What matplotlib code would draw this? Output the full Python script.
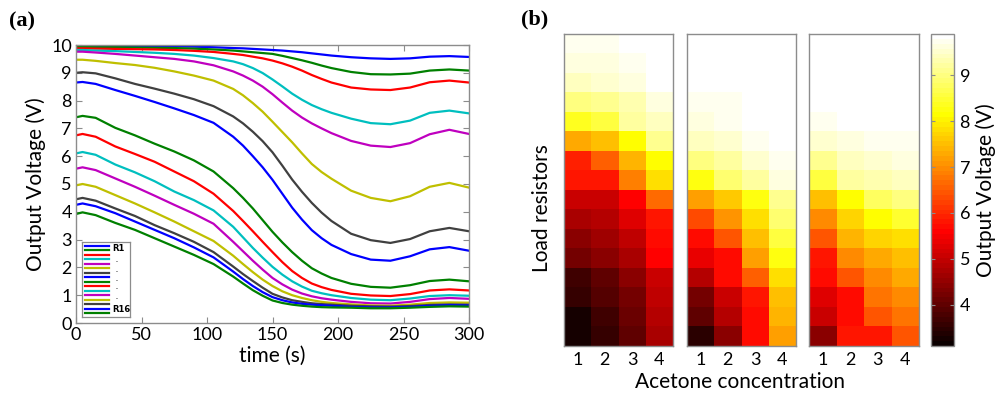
import numpy as np
import matplotlib
matplotlib.use("Agg")
import matplotlib.pyplot as plt

plt.rcParams['font.family'] = ['Lato', 'DejaVu Sans']

# ---------------- Panel (a) data ----------------
time_s = [0, 5, 15, 30, 45, 60, 75, 90, 105, 120, 127.5, 135, 142.5, 150, 157.5, 165,
          172.5, 180, 187.5, 195, 210, 225, 240, 255, 270, 285, 300]

R1 = [9.97, 9.97, 9.97, 9.96, 9.96, 9.95, 9.95, 9.94, 9.92, 9.89, 9.88, 9.86, 9.84, 9.82, 9.80, 9.77, 9.74, 9.70, 9.66, 9.62, 9.56, 9.52, 9.50, 9.52, 9.58, 9.60, 9.57]
R2 = [9.93, 9.93, 9.92, 9.92, 9.91, 9.90, 9.89, 9.87, 9.84, 9.80, 9.77, 9.74, 9.71, 9.68, 9.61, 9.53, 9.45, 9.36, 9.26, 9.17, 9.03, 8.95, 8.94, 8.97, 9.08, 9.12, 9.08]
R3 = [9.88, 9.88, 9.87, 9.86, 9.85, 9.84, 9.82, 9.79, 9.75, 9.68, 9.64, 9.58, 9.52, 9.44, 9.34, 9.22, 9.08, 8.92, 8.78, 8.65, 8.47, 8.40, 8.38, 8.47, 8.66, 8.72, 8.65]
R4 = [9.82, 9.82, 9.80, 9.78, 9.75, 9.72, 9.68, 9.62, 9.53, 9.41, 9.31, 9.17, 8.99, 8.76, 8.51, 8.25, 8.03, 7.84, 7.69, 7.56, 7.35, 7.19, 7.15, 7.28, 7.56, 7.64, 7.54]
R5 = [9.76, 9.76, 9.73, 9.68, 9.62, 9.56, 9.50, 9.41, 9.27, 9.05, 8.90, 8.72, 8.50, 8.23, 7.93, 7.64, 7.39, 7.18, 7.00, 6.83, 6.55, 6.38, 6.33, 6.47, 6.79, 6.95, 6.80]
R6 = [9.47, 9.47, 9.43, 9.35, 9.28, 9.18, 9.05, 8.90, 8.72, 8.42, 8.19, 7.91, 7.60, 7.24, 6.87, 6.50, 6.10, 5.72, 5.43, 5.19, 4.76, 4.50, 4.38, 4.56, 4.90, 5.04, 4.87]
R7 = [9.00, 9.02, 8.98, 8.80, 8.60, 8.43, 8.25, 8.05, 7.80, 7.43, 7.18, 6.88, 6.54, 6.14, 5.66, 5.16, 4.72, 4.32, 3.97, 3.67, 3.21, 2.98, 2.88, 3.02, 3.30, 3.42, 3.30]
R8 = [8.65, 8.67, 8.60, 8.38, 8.17, 7.95, 7.72, 7.48, 7.20, 6.70, 6.38, 6.00, 5.60, 5.15, 4.65, 4.15, 3.72, 3.34, 3.05, 2.81, 2.48, 2.28, 2.24, 2.40, 2.65, 2.73, 2.60]
R9 = [7.40, 7.45, 7.38, 7.02, 6.75, 6.45, 6.17, 5.85, 5.45, 4.85, 4.50, 4.12, 3.70, 3.28, 2.90, 2.55, 2.24, 1.97, 1.78, 1.62, 1.41, 1.30, 1.27, 1.36, 1.51, 1.56, 1.50]
R10 = [6.75, 6.80, 6.70, 6.35, 6.08, 5.80, 5.45, 5.10, 4.65, 4.03, 3.67, 3.30, 2.92, 2.55, 2.19, 1.87, 1.62, 1.42, 1.29, 1.19, 1.05, 0.99, 0.97, 1.04, 1.17, 1.21, 1.17]
R11 = [6.10, 6.15, 6.05, 5.70, 5.42, 5.10, 4.73, 4.42, 4.05, 3.46, 3.08, 2.70, 2.35, 2.02, 1.74, 1.50, 1.31, 1.16, 1.07, 1.00, 0.90, 0.84, 0.82, 0.88, 0.97, 1.00, 0.98]
R12 = [5.55, 5.60, 5.50, 5.20, 4.90, 4.58, 4.25, 3.93, 3.57, 2.92, 2.58, 2.24, 1.92, 1.62, 1.39, 1.20, 1.06, 0.96, 0.89, 0.84, 0.76, 0.71, 0.70, 0.76, 0.86, 0.90, 0.87]
R13 = [4.95, 5.00, 4.90, 4.60, 4.30, 3.98, 3.65, 3.30, 2.95, 2.42, 2.12, 1.83, 1.56, 1.33, 1.14, 1.00, 0.90, 0.82, 0.76, 0.72, 0.67, 0.63, 0.62, 0.66, 0.72, 0.74, 0.73]
R14 = [4.45, 4.50, 4.40, 4.12, 3.85, 3.52, 3.23, 2.92, 2.55, 2.03, 1.76, 1.51, 1.27, 1.05, 0.92, 0.82, 0.76, 0.71, 0.68, 0.66, 0.62, 0.60, 0.59, 0.61, 0.65, 0.67, 0.66]
R15 = [4.25, 4.30, 4.20, 3.95, 3.65, 3.35, 3.05, 2.72, 2.36, 1.85, 1.58, 1.33, 1.11, 0.93, 0.82, 0.74, 0.69, 0.66, 0.64, 0.62, 0.58, 0.56, 0.56, 0.58, 0.62, 0.64, 0.63]
R16 = [3.92, 3.98, 3.88, 3.60, 3.35, 3.05, 2.75, 2.45, 2.12, 1.67, 1.42, 1.18, 0.98, 0.81, 0.72, 0.66, 0.62, 0.59, 0.57, 0.56, 0.55, 0.53, 0.53, 0.55, 0.58, 0.60, 0.59]

series = [R1, R2, R3, R4, R5, R6, R7, R8, R9, R10, R11, R12, R13, R14, R15, R16]

line_colors = [(0, 0, 1), (0, 0.5, 0), (1, 0, 0), (0, 0.75, 0.75),
               (0.75, 0, 0.75), (0.75, 0.75, 0), (0.25, 0.25, 0.25)]

x_ticks = [0, 50, 100, 150, 200, 250, 300]
y_ticks = [0, 1, 2, 3, 4, 5, 6, 7, 8, 9, 10]

# ---------------- Panel (b) data (16 load resistors x 4 concentrations) ----------------
conc_labels = ['1', '2', '3', '4']
cb_ticks = [4, 5, 6, 7, 8, 9]

heat1 = [
    [9.75, 9.75, 9.90, 9.90],
    [9.60, 9.65, 9.75, 9.90],
    [9.45, 9.50, 9.65, 9.80],
    [9.00, 9.15, 9.30, 9.60],
    [8.35, 8.60, 9.20, 9.45],
    [7.30, 7.55, 8.10, 9.10],
    [5.95, 6.60, 7.45, 8.20],
    [5.85, 5.85, 6.90, 7.80],
    [5.10, 5.10, 5.60, 6.70],
    [4.70, 4.90, 5.25, 5.80],
    [4.45, 4.65, 5.00, 5.65],
    [4.20, 4.45, 4.80, 5.55],
    [3.70, 4.05, 4.45, 5.10],
    [3.60, 3.85, 4.20, 5.00],
    [3.30, 3.70, 4.10, 4.85],
    [3.25, 3.60, 4.05, 4.75],
]
heat2 = [
    [9.90, 9.90, 9.90, 9.90],
    [9.90, 9.90, 9.90, 9.90],
    [9.90, 9.90, 9.90, 9.90],
    [9.75, 9.78, 9.90, 9.90],
    [9.65, 9.70, 9.80, 9.90],
    [9.45, 9.55, 9.70, 9.80],
    [9.00, 9.25, 9.55, 9.75],
    [8.30, 8.90, 9.25, 9.60],
    [7.15, 7.65, 8.25, 9.15],
    [6.30, 7.05, 7.85, 8.90],
    [5.70, 6.40, 7.55, 8.60],
    [5.35, 5.75, 7.15, 8.30],
    [4.85, 5.65, 6.60, 7.85],
    [4.20, 5.10, 5.85, 7.55],
    [4.05, 4.90, 5.75, 7.45],
    [3.50, 4.45, 5.70, 7.20],
]
heat3 = [
    [9.90, 9.90, 9.90, 9.90],
    [9.90, 9.90, 9.90, 9.90],
    [9.90, 9.90, 9.90, 9.90],
    [9.80, 9.90, 9.90, 9.90],
    [9.72, 9.80, 9.88, 9.90],
    [9.50, 9.65, 9.75, 9.78],
    [9.15, 9.45, 9.50, 9.60],
    [8.60, 9.25, 9.35, 9.45],
    [7.55, 8.20, 8.75, 9.00],
    [7.00, 7.75, 8.10, 8.45],
    [6.40, 7.45, 7.70, 7.85],
    [5.80, 7.00, 7.30, 7.55],
    [5.75, 6.40, 7.00, 7.30],
    [5.25, 5.75, 6.75, 7.00],
    [5.10, 5.75, 6.50, 6.75],
    [4.45, 5.80, 5.85, 6.50],
]

VMIN, VMAX = 3.1, 9.9
W, H = 1008, 397

fig = plt.figure(figsize=(W / 100, H / 100), dpi=100)

def px_axes(x0, y0, x1, y1):
    return fig.add_axes([x0 / W, 1 - y1 / H, (x1 - x0) / W, (y1 - y0) / H])

spine_gray = '0.55'
tick_fs = 13
label_fs = 15

# ---------------- Panel (a) ----------------
ax = px_axes(76, 45, 469, 323)
for i, s in enumerate(series):
    ax.plot(time_s, s, color=line_colors[i % len(line_colors)], lw=1.6,
            solid_joinstyle='round')
ax.set_xlim(0, 300)
ax.set_ylim(0, 10)
ax.set_xticks(x_ticks)
ax.set_yticks(y_ticks)
ax.tick_params(direction='in', top=True, right=True, length=4, width=0.8,
               color=spine_gray, labelsize=tick_fs, pad=3)
for sp in ax.spines.values():
    sp.set_color(spine_gray)
    sp.set_linewidth(1.0)
ax.set_xlabel('time (s)', fontsize=label_fs, labelpad=2)
ax.set_ylabel('Output Voltage (V)', fontsize=label_fs, labelpad=4)

# legend box (MATLAB style, compact)
lg = ax.inset_axes([0.015, 0.022, 0.122, 0.269])
for i in range(len(series)):
    lg.plot([0.06, 0.56], [i + 1, i + 1], color=line_colors[i % len(line_colors)], lw=1.6)
lg.set_xlim(0, 1)
lg.set_ylim(16.8, 0.2)
lg.set_xticks([])
lg.set_yticks([])
for sp in lg.spines.values():
    sp.set_color(spine_gray)
    sp.set_linewidth(0.9)
lg.text(0.63, 1.6, 'R1', fontsize=6, fontweight='bold', va='center', family='DejaVu Sans')
for yy in [4.0, 6.2, 8.2, 10.1, 12.2]:
    lg.text(0.70, yy, '.', fontsize=6, fontweight='bold', va='center')
lg.text(0.63, 15.2, 'R16', fontsize=6, fontweight='bold', va='center', family='DejaVu Sans')

fig.text(9 / W, 1 - 21 / H, '(a)', fontsize=16, fontweight='bold',
         family='Liberation Serif', va='center', ha='left')
fig.text(521 / W, 1 - 19 / H, '(b)', fontsize=16, fontweight='bold',
         family='Liberation Serif', va='center', ha='left')

# ---------------- Panel (b) ----------------
cmap = plt.get_cmap('hot', 64)
heat_boxes = [(564, 673), (687, 796), (809, 919)]
im = None
for (x0, x1), data in zip(heat_boxes, [heat1, heat2, heat3]):
    hx = px_axes(x0, 34, x1, 346)
    im = hx.imshow(np.array(data), cmap=cmap, vmin=VMIN, vmax=VMAX, aspect='auto',
                   interpolation='nearest', extent=(0.5, 4.5, 16.5, 0.5))
    hx.set_xticks([1, 2, 3, 4])
    hx.set_xticklabels(conc_labels)
    hx.set_yticks([])
    hx.tick_params(direction='in', length=0, labelsize=tick_fs, pad=4)
    for sp in hx.spines.values():
        sp.set_color(spine_gray)
        sp.set_linewidth(1.0)

cax = px_axes(931, 34, 954, 346)
cb = fig.colorbar(im, cax=cax, ticks=cb_ticks)
cb.outline.set_edgecolor(spine_gray)
cb.outline.set_linewidth(1.0)
cax.tick_params(direction='in', length=3, color=spine_gray, labelsize=tick_fs, pad=4,
                left=True, right=True)
cb.set_label('Output Voltage (V)', fontsize=label_fs, labelpad=4)

fig.text(542 / W, 1 - 208 / H, 'Load resistors', fontsize=label_fs, rotation=90,
         va='center', ha='center')
fig.text(740 / W, 1 - 382 / H, 'Acetone concentration', fontsize=label_fs,
         va='center', ha='center')

fig.savefig('out.png', dpi=100)
